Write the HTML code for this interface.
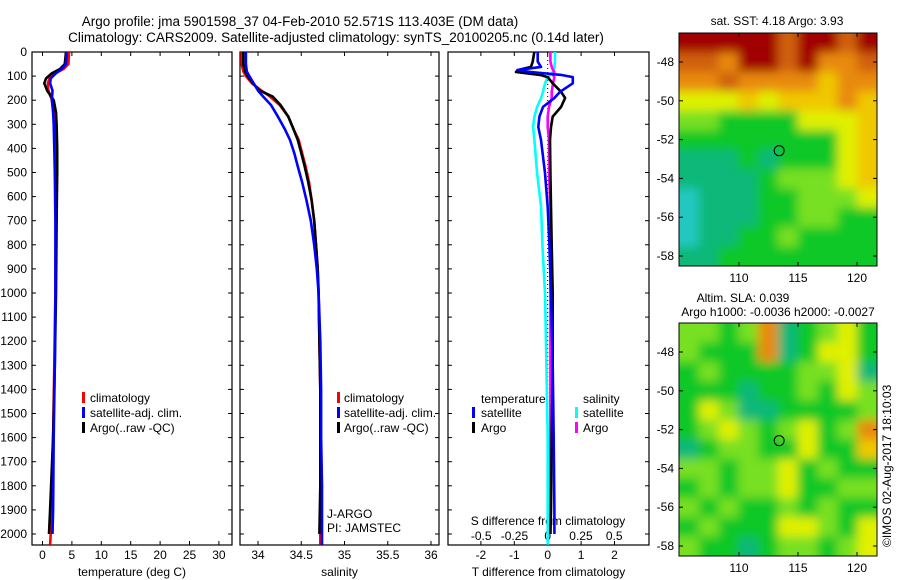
<!DOCTYPE html>
<html><head><meta charset="utf-8"><style>
body{margin:0;background:#fff;width:900px;height:580px;overflow:hidden}
svg{display:block;font-family:"Liberation Sans",sans-serif}
text{fill:#000}
</style></head><body>
<svg id="fig" width="900" height="580" viewBox="0 0 900 580">
<defs>
<clipPath id="c1"><rect x="32" y="52" width="200" height="493"/></clipPath>
<clipPath id="c2"><rect x="240" y="52" width="199" height="493"/></clipPath>
<clipPath id="c3"><rect x="448" y="52" width="201" height="493"/></clipPath>
<clipPath id="m1"><rect x="679" y="33" width="198" height="233"/></clipPath>
<clipPath id="m2"><rect x="679" y="323" width="198" height="233"/></clipPath>
<filter id="blur" x="-5%" y="-5%" width="110%" height="110%"><feGaussianBlur stdDeviation="5"/></filter>
</defs>
<g>
<text x="300" y="26" font-size="13.5" text-anchor="middle">Argo profile: jma 5901598_37 04-Feb-2010 52.571S 113.403E (DM data)</text>
<text x="336" y="42" font-size="13.5" text-anchor="middle">Climatology: CARS2009. Satellite-adjusted climatology: synTS_20100205.nc (0.14d later)</text>
<text x="777" y="25" font-size="12" text-anchor="middle">sat. SST: 4.18 Argo: 3.93</text>
<text x="743" y="302" font-size="12" text-anchor="middle">Altim. SLA: 0.039</text>
<text x="778" y="316" font-size="12" text-anchor="middle">Argo h1000: -0.0036 h2000: -0.0027</text>
<text transform="translate(891,547) rotate(-90)" font-size="12">©IMOS 02-Aug-2017 18:10:03</text>
</g>
<g id="axes"></g>
<g id="series"></g>
<g id="maps"></g>
<g id="legends" font-size="12">
<rect x="82" y="392" width="3" height="11" fill="#f00"/>
<text x="90" y="402">climatology</text>
<rect x="82" y="407" width="3" height="11" fill="#00f"/>
<text x="90" y="417">satellite-adj. clim.</text>
<rect x="82" y="422" width="3" height="11" fill="#000"/>
<text x="90" y="432">Argo(..raw -QC)</text>
<rect x="337" y="392" width="3" height="11" fill="#f00"/>
<text x="344" y="402">climatology</text>
<rect x="337" y="407" width="3" height="11" fill="#00f"/>
<text x="344" y="417">satellite-adj. clim.</text>
<rect x="337" y="422" width="3" height="11" fill="#000"/>
<text x="344" y="432">Argo(..raw -QC)</text>
<text x="481" y="403">temperature</text>
<text x="583" y="403">salinity</text>
<rect x="472" y="407" width="3" height="11" fill="#00f"/>
<text x="481" y="417">satellite</text>
<rect x="472" y="422" width="3" height="11" fill="#000"/>
<text x="481" y="432">Argo</text>
<rect x="575" y="407" width="3" height="11" fill="#0ff"/>
<text x="583" y="417">satellite</text>
<rect x="575" y="422" width="3" height="11" fill="#f0f"/>
<text x="583" y="432">Argo</text>
<text x="327" y="518">J-ARGO</text>
<text x="327" y="532">PI: JAMSTEC</text>
</g>
</svg>
<script>
// ---------- data ----------
const depthTicks=[0,100,200,300,400,500,600,700,800,900,1000,1100,1200,1300,1400,1500,1600,1700,1800,1900,2000];
const tempTicks=[0,5,10,15,20,25,30];
const salTicks=[34,34.5,35,35.5,36];
const tdiffTicks=[-2,-1,0,1,2];
const sdiffTicks=[-0.5,-0.25,0,0.25,0.5];
const sdiffTickLabels=["-0.5","-0.25","0","0.25","0.5"];
const latTicks=[-48,-50,-52,-54,-56,-58];
const lonTicks=[110,115,120];

const tDepth=[0,50,70,90,110,130,160,200,250,300,400,500,700,1000,1300,1600,1900,2000,2045];
const tClim=[4.5,4.4,3.6,2.0,1.2,0.9,1.0,1.6,1.9,2.0,2.2,2.3,2.3,2.2,2.0,1.8,1.5,1.4,1.3];
const tArgo=[4.0,3.8,3.0,1.5,0.6,0.3,0.8,1.9,2.3,2.4,2.5,2.5,2.4,2.3,2.1,1.8,1.3,1.1,null];
const tSat=[4.1,4.0,3.3,2.2,1.4,1.3,1.7,1.6,1.8,1.9,2.0,2.1,2.2,2.2,2.1,1.9,1.8,1.7,null];

const sDepth=[0,50,80,100,130,160,185,220,268,320,365,420,475,540,614,700,800,900,1000,1200,1400,1600,1800,2000,2045];
const sClim=[33.81,33.81,33.83,33.86,33.93,34.04,34.14,34.25,34.35,34.41,34.47,34.51,34.55,34.59,34.62,34.65,34.67,34.69,34.70,34.71,34.72,34.72,34.72,34.72,34.72];
const sArgo=[33.83,33.83,33.85,33.88,33.94,34.02,34.17,34.26,34.35,34.41,34.46,34.50,34.54,34.58,34.62,34.65,34.67,34.69,34.70,34.71,34.72,34.72,34.72,34.71,null];
const sSat=[33.86,33.86,33.87,33.90,33.95,34.00,34.06,34.15,34.23,34.31,34.37,34.42,34.46,34.51,34.56,34.61,34.65,34.68,34.70,34.72,34.73,34.73,34.74,34.74,34.74];

const dDepth=[0,40,62,75,83,95,104,130,165,191,228,268,311,365,502,643,800,1000,1300,1600,1900,2000,2045];
const dTSat=[-0.3,-0.3,-0.2,-0.9,-0.5,0.4,0.75,0.75,0.37,0.2,-0.14,-0.25,-0.28,-0.2,-0.08,0.0,0.05,0.1,0.15,0.18,0.2,0.2,null];
const dTArgo=[-0.4,-0.45,-0.5,-0.9,-0.95,-0.23,0.0,0.15,0.4,0.52,0.4,0.15,0.1,0.07,0.08,0.1,0.12,0.15,0.15,0.12,0.1,0.08,null];
const dSSat=[0.055,0.055,0.05,0.045,0.04,0.02,0.0,-0.02,-0.035,-0.05,-0.08,-0.1,-0.11,-0.1,-0.08,-0.05,-0.04,-0.02,-0.01,0.0,0.0,0.0,0.0];
const dSArgo=[0.02,0.02,0.03,0.04,0.05,0.04,0.05,0.04,0.03,0.03,0.01,0.0,0.0,0.01,0.01,0.02,0.02,0.02,0.02,0.02,0.02,0.02,null];

const sstGrid=[
[8,8,8,8,8,7,8,8,7,8],
[7,7,6,8,8,7,8,6,6,7],
[6,6,7,6,6,6,6,5,6,6],
[4,4,4,5,4,5,5,5,6,5],
[3,3,2,2,2,2,4,4,4,5],
[2,2,2,2,2,2,2,2,4,5],
[1,1,1,2,1,2,2,2,4,5],
[1,1,1,1,2,3,3,3,4,5],
[0,1,1,1,2,2,3,3,3,4],
[0,1,1,1,2,2,3,3,2,2],
[0,1,1,2,2,3,2,2,2,2],
[1,1,2,2,2,2,2,2,2,2]];
const slaGrid=[
[3,3,2,3,6,1,2,3,4,2],
[3,2,2,2,6,1,2,4,4,2],
[2,3,2,2,2,2,3,3,4,1],
[2,2,2,1,2,2,3,2,4,3],
[2,4,3,1,1,2,2,2,2,3],
[2,3,4,3,2,3,4,2,3,6],
[1,2,3,3,2,2,4,2,2,5],
[3,3,2,3,3,4,2,3,2,2],
[2,3,2,3,3,4,2,2,3,3],
[3,2,3,2,2,3,2,3,2,2],
[2,3,2,2,2,4,4,3,2,4],
[3,2,2,1,2,3,3,2,3,4]];
const palette=["#22c8c0","#10b878","#10c828","#78e020","#e0f000","#f0c800","#e88a10","#d06010","#a00000"];
const argoLon=113.403, argoLat=-52.571;

// ---------- helpers ----------
const NS="http://www.w3.org/2000/svg";
function mk(tag,attrs,parent){const e=document.createElementNS(NS,tag);for(const k in attrs)e.setAttribute(k,attrs[k]);parent.appendChild(e);return e;}
const yD=d=>52+d*0.241;
const axes=document.getElementById('axes'), series=document.getElementById('series'), maps=document.getElementById('maps');

const panels=[
 {x:32,w:200,name:'temperature-panel',xs:v=>42.5+v*5.88,ticks:tempTicks,lab:tempTicks.map(String),xl:'temperature (deg C)'},
 {x:240,w:199,name:'salinity-panel',xs:v=>258+(v-34)*86.5,ticks:salTicks,lab:salTicks.map(String),xl:'salinity'},
 {x:448,w:201,name:'difference-panel',xs:v=>547.7+v*33.4,ticks:tdiffTicks,lab:tdiffTicks.map(String),xl:'T difference from climatology'}
];
panels.forEach((p,i)=>{
 const g=mk('g',{},axes);
 
 
 const r=mk('rect',{x:p.x,y:52,width:p.w,height:493,fill:'none',stroke:'#000','stroke-width':1.2},g);
 
 
 depthTicks.forEach(d=>{
  mk('line',{x1:p.x,x2:p.x+4,y1:yD(d),y2:yD(d),stroke:'#000'},g);
  mk('line',{x1:p.x+p.w-4,x2:p.x+p.w,y1:yD(d),y2:yD(d),stroke:'#000'},g);
 });
 p.ticks.forEach((v,k)=>{
  const x=p.xs(v);
  mk('line',{x1:x,x2:x,y1:545,y2:541,stroke:'#000'},g);
  mk('line',{x1:x,x2:x,y1:52,y2:56,stroke:'#000'},g);
  const t=mk('text',{x:x,y:559,'font-size':12,'text-anchor':'middle'},g);
  t.textContent=p.lab[k];
  
  
 });
 const xl=mk('text',{x:p.x+p.w/2,y:576,'font-size':12,'text-anchor':'middle'},g);
 xl.textContent=p.xl;
 
 
});
depthTicks.forEach(d=>{
 const t=mk('text',{x:27,y:yD(d)+4,'font-size':12,'text-anchor':'end'},axes);
 t.textContent=String(d);
 
 
});
const sx=v=>547.7+v*133;
const st=mk('text',{x:548,y:525,'font-size':12,'text-anchor':'middle'},axes);
st.textContent='S difference from climatology';


sdiffTicks.forEach((v,k)=>{
 const t=mk('text',{x:sx(v),y:540,'font-size':12,'text-anchor':'middle'},axes);
 t.textContent=sdiffTickLabels[k];
 
 
});
mk('line',{x1:547.7,x2:547.7,y1:52,y2:545,stroke:'#000','stroke-dasharray':'1,3'},axes);

function line(depths,vals,xs,color,clip,name){
 let pts=[];
 depths.forEach((d,i)=>{if(vals[i]!==null)pts.push(xs(vals[i]).toFixed(1)+','+yD(d).toFixed(1));});
 const pl=mk('polyline',{points:pts.join(' '),fill:'none',stroke:color,'stroke-width':2.6,'stroke-linejoin':'round','clip-path':'url(#'+clip+')'},series);
 
 
}
line(tDepth,tClim,panels[0].xs,'#f00','c1','temp-climatology-line');
line(tDepth,tArgo,panels[0].xs,'#000','c1','temp-argo-line');
line(tDepth,tSat,panels[0].xs,'#00f','c1','temp-satellite-line');
line(sDepth,sClim,panels[1].xs,'#f00','c2','sal-climatology-line');
line(sDepth,sArgo,panels[1].xs,'#000','c2','sal-argo-line');
line(sDepth,sSat,panels[1].xs,'#00f','c2','sal-satellite-line');
line(dDepth,dSSat,sx,'#0ff','c3','s-diff-satellite-line');
line(dDepth,dSArgo,sx,'#f0f','c3','s-diff-argo-line');
line(dDepth,dTArgo,panels[2].xs,'#000','c3','t-diff-argo-line');
line(dDepth,dTSat,panels[2].xs,'#00f','c3','t-diff-satellite-line');

// ---------- maps ----------
function drawMap(grid,top,bottom,name,clip){
 const left=679,right=877,lonX=v=>739+(v-110)*11.8;
 const latY=v=>(top===33?62:top+29)+(-48-v)*19.4;
 const g=mk('g',{},maps);
 
 
 const cg=mk('g',{'clip-path':'url(#'+clip+')'},g);
 const cells=mk('g',{filter:'url(#blur)'},cg);
 const rows=grid.length,cols=grid[0].length,cw=(right-left)/cols,ch=(bottom-top)/rows;
 grid.forEach((row,r)=>row.forEach((v,c)=>{
  let x=left+c*cw,y=top+r*ch,w=cw+0.6,h=ch+0.6;
  if(c===0){x-=10;w+=10;} if(c===cols-1){w+=10;}
  if(r===0){y-=10;h+=10;} if(r===rows-1){h+=10;}
  const cell=mk('rect',{x:x,y:y,width:w,height:h,fill:palette[v]},cells);
  
  
 }));
 mk('rect',{x:left,y:top,width:right-left,height:bottom-top,fill:'none',stroke:'#000'},g);
 latTicks.forEach(v=>{
  const y=latY(v);
  mk('line',{x1:left,x2:left+4,y1:y,y2:y,stroke:'#000'},g);
  mk('line',{x1:right-4,x2:right,y1:y,y2:y,stroke:'#000'},g);
  const t=mk('text',{x:674,y:y+4,'font-size':12,'text-anchor':'end'},g);
  t.textContent=String(v);
  
  
 });
 lonTicks.forEach(v=>{
  const x=lonX(v);
  mk('line',{x1:x,x2:x,y1:bottom,y2:bottom-4,stroke:'#000'},g);
  mk('line',{x1:x,x2:x,y1:top,y2:top+4,stroke:'#000'},g);
  const t=mk('text',{x:x,y:bottom+16,'font-size':12,'text-anchor':'middle'},g);
  t.textContent=String(v);
  
  
 });
 const c=mk('circle',{cx:lonX(argoLon),cy:latY(argoLat),r:5,fill:'none',stroke:'#000'},g);
 
 
}
drawMap(sstGrid,33,266,'sst-map','m1');
drawMap(slaGrid,323,556,'sla-map','m2');
</script>
</body></html>
